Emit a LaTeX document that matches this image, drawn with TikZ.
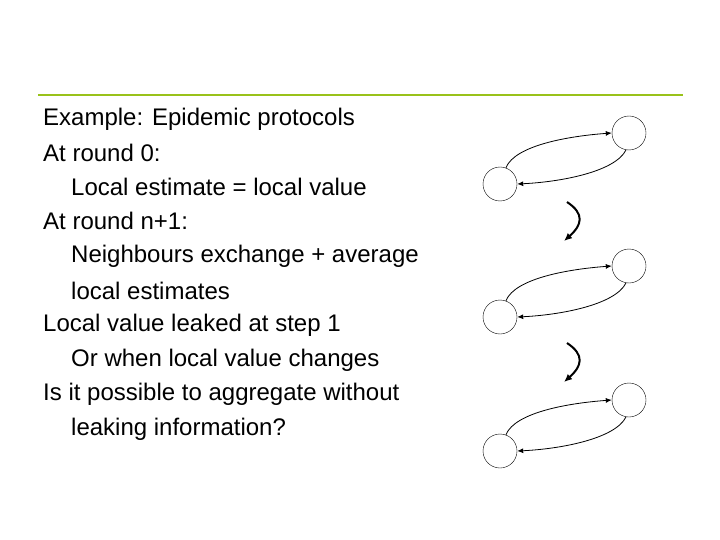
\documentclass[tikz,border=0pt]{standalone}
\usepackage{fontspec}
\setmainfont{Liberation Sans}
\usetikzlibrary{arrows.meta}
\begin{document}
\begin{tikzpicture}[x=1pt,y=-1pt,
  txt/.style={anchor=west,inner sep=0pt,font=\fontsize{24}{28}\selectfont},
  nd/.style={circle,draw,minimum size=34pt,inner sep=0pt},
  ex/.style={-{Latex[length=6pt,width=5pt]},thick},
  dn/.style={-{Latex[length=8pt,width=7pt]},line width=2pt}]
\useasboundingbox (0,0) rectangle (720,540);
\draw[color={rgb,255:red,153;green,194;blue,26},line width=2.5pt] (38,95) -- (683,95);
\foreach \t/\x/\y [count=\i] in {{Example: Epidemic protocols}/43/119,{At round 0:}/43/153,{Local estimate = local value}/71/187,{At round n+1:}/43/221,{Neighbours exchange + average}/71/256,{local estimates}/71/291,{Local value leaked at step 1}/43/325,{Or when local value changes}/71/360,{Is it possible to aggregate without}/43/394,{leaking information?}/71/429}
  \node[txt] (t\i) at (\x,\y) {\t};
\foreach \k/\dy in {1/0,2/133,3/267}{
  \node[nd] (r\k) at (629,133+\dy) {};
  \node[nd] (l\k) at (500,184+\dy) {};
  \draw[ex] (l\k.70) .. controls (515,145+\dy) and (570,136+\dy) .. (r\k.west);
  \draw[ex] (r\k.260) .. controls (615,172+\dy) and (560,182+\dy) .. (l\k.east);
}
\foreach \k/\dy in {1/0,2/141}{
  \coordinate (s\k) at (567,202+\dy);
  \coordinate (e\k) at (564,241+\dy);
  \draw[dn] (s\k) .. controls (585,214+\dy) and (582,225+\dy) .. (e\k);
}
\end{tikzpicture}
\end{document}
